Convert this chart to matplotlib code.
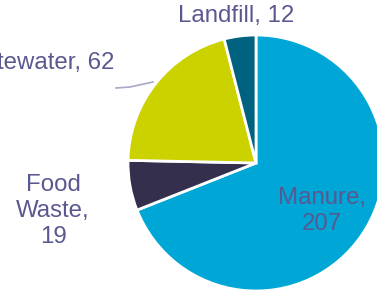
"""biogas feedstock pie, cropped view"""
import matplotlib.pyplot as plt

# data
sources = ["Manure", "Food Waste", "Wastewater", "Landfill"]
values = [207, 19, 62, 12]
colors = ["#00A6D6", "#332F4D", "#CCD100", "#00627E"]

TEXT = "#5A5890"
plt.rcParams["font.family"] = ["Liberation Sans", "DejaVu Sans"]

fig = plt.figure(figsize=(3.77, 2.91), dpi=100)
ax = fig.add_axes([0, 0, 1, 1])

# pie in pixel coords, centre partly off canvas
ax.pie(values, colors=colors, startangle=90, counterclock=False,
       center=(256, 291 - 163), radius=128, frame=True,
       wedgeprops=dict(edgecolor="white", linewidth=2))
ax.set_xlim(0, 377)
ax.set_ylim(0, 291)
ax.set_aspect("equal")
ax.axis("off")

fs = 17.3

def lab(i, sep=", "):
    return f"{sources[i]}{sep}{values[i]}"

ax.text(236, 291 - 16, lab(3), ha="center", va="center", fontsize=fs, color=TEXT)
ax.text(114, 291 - 63, lab(2), ha="right", va="center", fontsize=fs, color=TEXT)
ax.text(53, 291 - 211, "Food\nWaste,\n19", ha="center", va="center",
        fontsize=fs, color=TEXT, linespacing=1.22)
ax.text(322, 291 - 211, lab(0, ",\n"), ha="center", va="center",
        fontsize=fs, color=TEXT, linespacing=1.22)

# leader line for wastewater
ax.plot([116, 130, 153], [291 - 88, 291 - 87, 291 - 82], color="#A8A8C8", lw=1.2)

fig.savefig("out.png", dpi=100)
